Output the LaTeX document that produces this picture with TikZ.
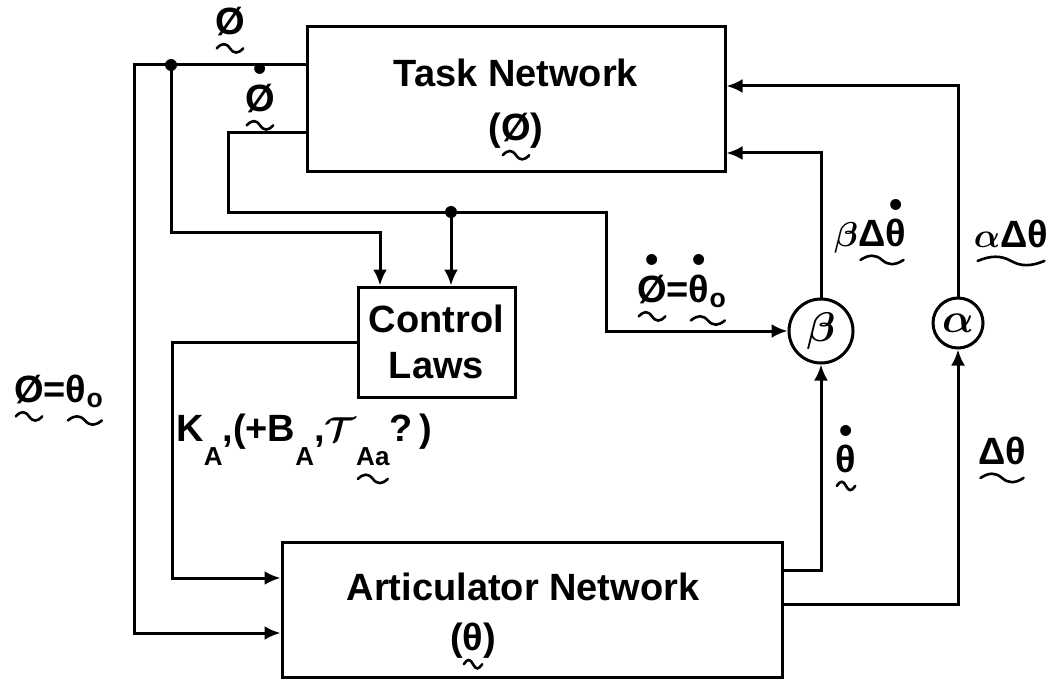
\documentclass[tikz,border=0pt]{standalone}
\usepackage{fontspec}
\setmainfont{Liberation Sans}
\usepackage{graphicx}
\usepackage{tikz}
\usetikzlibrary{arrows.meta, positioning, calc}

\newsavebox\uvbox
\newsavebox\udbox
\newlength\uvlen
% tilde under a symbol, dot over a symbol
\newcommand{\squig}{\tikz[x=\uvlen, y=1pt, baseline=0pt] \draw[line width=1.3pt, line cap=round] (0,0) .. controls (0.2,2.8) and (0.35,2.8) .. (0.5,0) .. controls (0.65,-2.8) and (0.8,-2.8) .. (1,0);}
\newcommand{\uvec}[1]{\sbox\uvbox{#1}\setlength\uvlen{.9\wd\uvbox}\vtop{\offinterlineskip\hbox{\usebox\uvbox}\kern3pt\hbox to\wd\uvbox{\hss\squig\hss}}}
\newcommand{\udot}[1]{\sbox\udbox{#1}\vbox{\offinterlineskip\hbox to\wd\udbox{\hss\textbullet\hss}\kern1pt\box\udbox}}
\newcommand{\lowsub}[1]{\raisebox{-12pt}{\fontsize{13}{13}\selectfont #1}}
\newcommand{\labfont}{\fontsize{19}{23}\selectfont\bfseries\boldmath}

\begin{document}
\begin{tikzpicture}[
    x=0.5pt, y=-0.5pt,
    box/.style={draw, line width=1.5pt, align=center, font=\labfont},
    gain/.style={draw, circle, line width=1.5pt, inner sep=0pt, font=\fontsize{22}{22}\selectfont\boldmath},
    lbl/.style={inner sep=0pt, font=\labfont},
    wire/.style={line width=1.5pt},
    arr/.style={wire, -{Latex[length=8pt,width=7pt]}},
    junc/.style={circle, fill, inner sep=0pt, minimum size=6pt}
]
\useasboundingbox (0,0) rectangle (1063,679);

% Blocks
\node[box, minimum width=209pt, minimum height=72.5pt] (task) at (516,99.5) {\rule{0pt}{25pt}Task Network\\[4pt](\uvec{Ø})};
\node[box, minimum width=78.5pt, minimum height=55pt] (laws) at (436.5,342) {Control\\Laws};
\node[box, minimum width=250pt, minimum height=67pt] (artic) at (532,610) {\rule{0pt}{26pt}Articulator Network\hspace*{9pt}\\[2pt](\uvec{θ})\hspace*{59pt}};

% Gain circles
\node[gain, minimum size=32pt] (beta) at (821,331) {$\beta$};
\node[gain, minimum size=25pt] (alpha) at (958,323) {$\alpha$};

% Junctions
\coordinate (jphi) at (171,65);
\coordinate (jdot) at (451,212);
\node[junc] at (jphi) {};
\node[junc] at (jdot) {};

% Task network outputs
\draw[arr] (task.west |- jphi) -- (134,65) |- (artic.west |- 0,633);
\draw[arr] (jphi) -- (171,232) -| (laws.north -| 380,0);
\draw[arr] (task.west |- 0,133) -- (228,133) |- (606,212) |- (beta.west);
\draw[arr] (jdot) -- (laws.north -| jdot);

% Control laws to articulator network
\draw[arr] (laws.west) -| (172,578) -- (artic.west |- 0,578);

% Articulator network outputs
\draw[arr] (artic.east |- 0,570) -| (beta.south);
\draw[arr] (artic.east |- 0,604) -| (alpha.south);
\draw[arr] (beta.north) |- (task.east |- 0,153);
\draw[arr] (alpha.north) |- (task.east |- 0,86);

% Labels
\node[lbl] (lphi) at (230,31) {\uvec{Ø}};
\node[lbl] (lphidot) at (260,98) {\uvec{\udot{Ø}}};
\node[lbl] (lmatch) at (682,291) {\uvec{\udot{Ø}}=\uvec{\udot{θ}\textsubscript{o}}};
\node[lbl] (lbeta) at (870,233) {$\beta$\uvec{Δ\udot{θ}}};
\node[lbl] (lalpha) at (1011,244) {\uvec{$\alpha$Δθ}};
\node[lbl] (lthdot) at (846,459) {\uvec{\udot{θ}}};
\node[lbl] (ldelta) at (1002,461) {\uvec{Δθ}};
\node[lbl] (linit) at (59,401) {\uvec{Ø}=\uvec{θ\textsubscript{o}}};
\node[lbl] (lgains) at (304,450) {K\lowsub{A},(+B\lowsub{A},$\mathcal{T}$\lowsub{\uvec{Aa}}?\,)};

\end{tikzpicture}
\end{document}
